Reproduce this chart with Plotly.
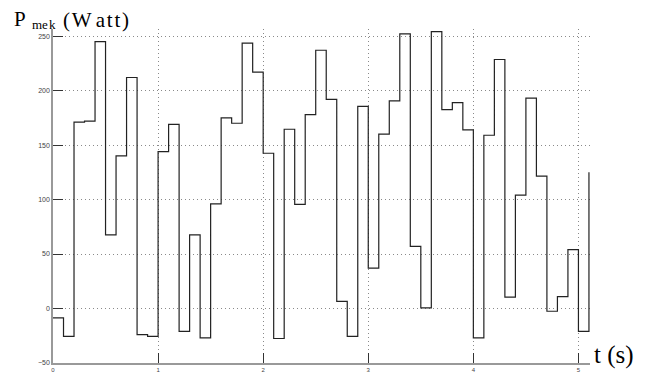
import plotly.graph_objects as go

# time instants (s) of each step start
t_s = [0.0, 0.1, 0.2, 0.3, 0.4, 0.5, 0.6, 0.7, 0.8, 0.9,
       1.0, 1.1, 1.2, 1.3, 1.4, 1.5, 1.6, 1.7, 1.8, 1.9,
       2.0, 2.1, 2.2, 2.3, 2.4, 2.5, 2.6, 2.7, 2.8, 2.9,
       3.0, 3.1, 3.2, 3.3, 3.4, 3.5, 3.6, 3.7, 3.8, 3.9,
       4.0, 4.1, 4.2, 4.3, 4.4, 4.5, 4.6, 4.7, 4.8, 4.9,
       5.0, 5.1]
# mechanical power (Watt)
p_mek = [-8.5, -25.5, 171, 172, 245, 67.5, 140, 212, -24, -25.5,
         144, 169, -21, 67.5, -27, 96, 175, 170, 243.5, 217,
         142.5, -27.5, 164.5, 95.5, 178, 237, 192, 6.5, -25.5, 185.5,
         37, 160, 190.5, 252, 57, 0.5, 254, 182.5, 189, 164,
         -27, 159, 228.5, 10.5, 104, 193, 121.5, -2.5, 11, 54,
         -21, 125]

x_ticks = [0, 1, 2, 3, 4, 5]
y_ticks = [-50, 0, 50, 100, 150, 200, 250]

fig = go.Figure()
fig.add_trace(go.Scatter(
    x=t_s, y=p_mek, mode="lines", line=dict(shape="hv", color="#222222", width=1.2),
    showlegend=False, hoverinfo="skip"))

grid = dict(showgrid=True, gridcolor="#8a8a8a", griddash="1px,3px", gridwidth=1)
fig.update_xaxes(range=[0, 5.11], tickvals=x_ticks, ticks="inside", ticklen=10,
                 tickcolor="#333333", showline=True, linecolor="#999999", linewidth=1.5,
                 zeroline=False, tickfont=dict(family="Liberation Sans", size=6, color="#444444"),
                 automargin=False, **grid)
fig.update_yaxes(range=[-50, 256.5], tickvals=y_ticks, ticks="inside", ticklen=10,
                 tickcolor="#333333", showline=True, linecolor="#999999", linewidth=1.5,
                 zeroline=False, tickfont=dict(family="Liberation Sans", size=7, color="#444444"),
                 automargin=False, **grid)

serif = "Liberation Serif"
fig.add_annotation(text="P", x=-0.0765, y=1.03, xref="paper", yref="paper",
                   showarrow=False, xanchor="left", yanchor="middle",
                   font=dict(family=serif, size=21, color="black"))
fig.add_annotation(text="me\u200ak", x=-0.042, y=1.012, xref="paper", yref="paper",
                   showarrow=False, xanchor="left", yanchor="middle",
                   font=dict(family=serif, size=13, color="black"))
fig.add_annotation(text="(\u200aW\u2009a\u200at\u200at\u200a)", x=0.015, y=1.026,
                   xref="paper", yref="paper",
                   showarrow=False, xanchor="left", yanchor="middle",
                   font=dict(family=serif, size=21, color="black"))
fig.add_annotation(text="t (s)", xref="paper", yref="paper", x=1.003, y=0.025,
                   showarrow=False, xanchor="left", yanchor="middle",
                   font=dict(family=serif, size=25, color="black"))

fig.update_layout(width=650, height=372, margin=dict(l=53, r=60, t=29, b=9),
                  plot_bgcolor="white", paper_bgcolor="white")
fig.write_html("out.html", config={"displayModeBar": False},
               post_script="document.body.style.margin='0';")
